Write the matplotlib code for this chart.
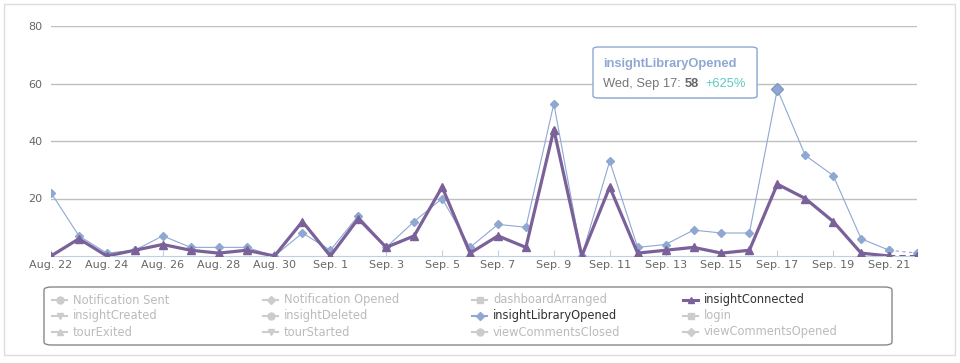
import numpy as np
import matplotlib
matplotlib.use('Agg')
from matplotlib import pyplot as plt
from matplotlib.lines import Line2D
from matplotlib.patches import FancyBboxPatch, Rectangle

# ----------------
# data
# ----------------
dates = ['Aug. 22', 'Aug. 23', 'Aug. 24', 'Aug. 25', 'Aug. 26', 'Aug. 27', 'Aug. 28',
         'Aug. 29', 'Aug. 30', 'Aug. 31', 'Sep. 1', 'Sep. 2', 'Sep. 3', 'Sep. 4',
         'Sep. 5', 'Sep. 6', 'Sep. 7', 'Sep. 8', 'Sep. 9', 'Sep. 10', 'Sep. 11',
         'Sep. 12', 'Sep. 13', 'Sep. 14', 'Sep. 15', 'Sep. 16', 'Sep. 17', 'Sep. 18',
         'Sep. 19', 'Sep. 20', 'Sep. 21', 'Sep. 22']
library_opened = [22, 7, 1, 2, 7, 3, 3, 3, 0, 8, 2, 14, 3, 12, 20, 3, 11, 10, 53, 0,
                  33, 3, 4, 9, 8, 8, 58, 35, 28, 6, 2, 1]
connected = [0, 6, 0, 2, 4, 2, 1, 2, 0, 12, 0, 13, 3, 7, 24, 1, 7, 3, 44, 0,
             24, 1, 2, 3, 1, 2, 25, 20, 12, 1, 0, 0]
y_ticks = [20, 40, 60, 80]

legend_names = ['Notification Sent', 'Notification Opened', 'dashboardArranged', 'insightConnected',
                'insightCreated', 'insightDeleted', 'insightLibraryOpened', 'login',
                'tourExited', 'tourStarted', 'viewCommentsClosed', 'viewCommentsOpened']
legend_markers = ['o', 'D', 's', '^', 'v', 'o', 'D', 's', '^', 'v', 'o', 'D']
visible = {'insightConnected': '#7a6199', 'insightLibraryOpened': '#8fa8d2'}

tooltip_title = 'insightLibraryOpened'
tooltip_date = 'Wed, Sep 17: '
tooltip_value = '58'
tooltip_change = '+625%'
highlight_idx = 26

blue = '#8fa8d2'
purple = '#7a6199'
grey_txt = '#666666'
hidden = '#cccccc'

fig = plt.figure(figsize=(9.6, 3.63), dpi=100)
W, H = 960, 363


def fx(px):
    return px / W


def fy(py):
    return 1 - py / H


# outer frame
fig.patches.append(Rectangle((fx(4), fy(355)), 951 / W, 351 / H, transform=fig.transFigure,
                             facecolor='none', edgecolor='#dddddd', lw=1))

ax = fig.add_axes([fx(51), fy(256), 866 / W, 230 / H])
x = np.arange(len(dates))

# solid part plus dashed last segment
ax.plot(x[:-1], library_opened[:-1], color=blue, lw=0.8, marker='D', ms=4.2, zorder=3)
ax.plot(x[-2:], library_opened[-2:], color=blue, lw=0.8, ls=(0, (3, 3)), marker='D', ms=4.2, zorder=3)
ax.plot(x[:-1], connected[:-1], color=purple, lw=2.3, marker='^', ms=5.5, zorder=4)
ax.plot(x[-2:], connected[-2:], color=purple, lw=1.5, ls=(0, (3, 2)), marker='^', ms=5.5, zorder=4)
ax.plot(x[highlight_idx], library_opened[highlight_idx], color=blue, marker='D', ms=6.5,
        zorder=5, markeredgecolor='#7f98c4')

ax.set_xlim(0, len(dates) - 1)
ax.set_ylim(0, 80)
ax.set_yticks(y_ticks)
ax.set_yticklabels([str(v) for v in y_ticks])
ax.set_xticks(x[::2])
ax.set_xticklabels(dates[::2])
ax.grid(axis='y', color='#c0c0c0', lw=1)
ax.set_axisbelow(True)
for s in ['top', 'right', 'left']:
    ax.spines[s].set_visible(False)
ax.spines['bottom'].set_color('#c0d0e0')
ax.tick_params(axis='y', length=0, pad=6, labelsize=8, labelcolor=grey_txt)
ax.tick_params(axis='x', length=4, color='#c0d0e0', direction='in', pad=3, labelsize=8,
               labelcolor=grey_txt)

# tooltip
tip_font = 'Liberation Sans'
tip_size = 9.3
fig.patches.append(FancyBboxPatch((fx(594), fy(99)), 164 / W, 52 / H, transform=fig.transFigure,
                                  boxstyle='round,pad=0,rounding_size=0.006', facecolor='#dddddd',
                                  edgecolor='none', alpha=0.5, zorder=9))
tip = FancyBboxPatch((fx(593), fy(98)), 164 / W, 51 / H, transform=fig.transFigure,
                     boxstyle='round,pad=0,rounding_size=0.006', facecolor='white',
                     edgecolor='#8fa8d2', lw=1, zorder=10)
fig.patches.append(tip)
fig.text(fx(603), fy(67), tooltip_title, color=blue, fontsize=tip_size, fontweight='bold',
         family=tip_font, zorder=11)
t1 = fig.text(fx(603), fy(87), tooltip_date, color='#777777', fontsize=tip_size,
              family=tip_font, zorder=11)
fig.canvas.draw()
r = fig.canvas.get_renderer()
bb = t1.get_window_extent(r)
t2 = fig.text(bb.x1 / W, fy(87), tooltip_value, color='#666666', fontsize=tip_size,
              fontweight='bold', family=tip_font, zorder=11)
bb2 = t2.get_window_extent(r)
fig.text(bb2.x1 / W + fx(7), fy(87), tooltip_change, color='#5ccac0', fontsize=tip_size,
         family=tip_font, zorder=11)

# legend drawn by hand, row-major in 4 columns
fig.patches.append(FancyBboxPatch((fx(44), fy(345)), 848 / W, 58 / H, transform=fig.transFigure,
                                  boxstyle='round,pad=0,rounding_size=0.008', facecolor='white',
                                  edgecolor='#888888', lw=1))
col_x = [52, 263, 472, 683]
row_y = [300, 316, 332]
for i, (name, m) in enumerate(zip(legend_names, legend_markers)):
    c = visible.get(name, hidden)
    x0 = col_x[i % 4]
    y0 = row_y[i // 4]
    lw = 2.2 if name == 'insightConnected' else 1.5
    fig.lines.append(Line2D([fx(x0), fx(x0 + 15)], [fy(y0), fy(y0)], transform=fig.transFigure,
                            color=c, lw=lw))
    fig.lines.append(Line2D([fx(x0 + 7.5)], [fy(y0)], transform=fig.transFigure,
                            color=c, marker=m, ms=5 if m != 'D' else 4.5))
    fig.text(fx(x0 + 21), fy(y0), name, va='center', fontsize=8.3,
             color='#333333' if name in visible else '#bbbbbb')

fig.savefig('out.png', dpi=100)
